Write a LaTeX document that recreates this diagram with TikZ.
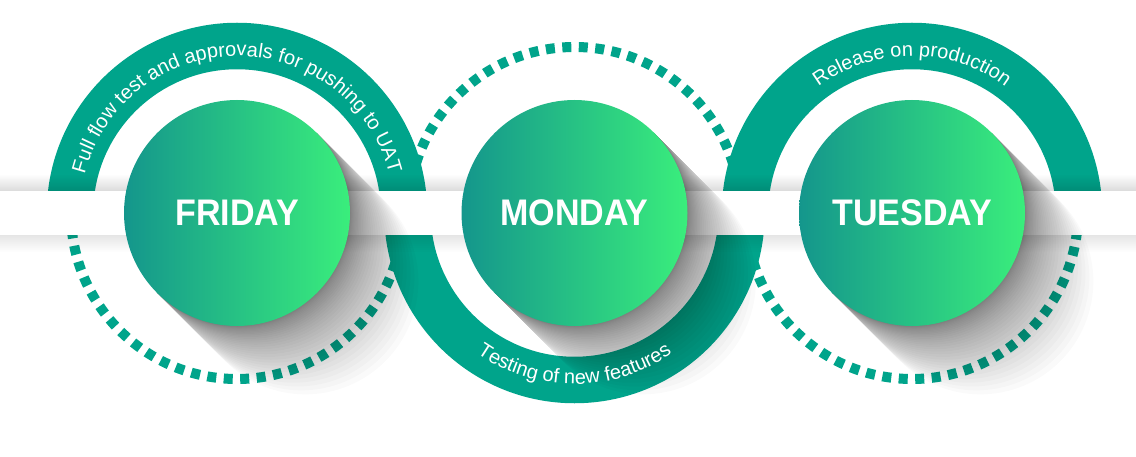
\documentclass[tikz,border=0pt]{standalone}
\usepackage{fontspec}
\setmainfont{Liberation Sans}
\usetikzlibrary{calc,fadings,decorations.text}
\definecolor{ringteal}{RGB}{0,164,139}
\definecolor{dayleft}{RGB}{20,150,140}
\definecolor{dayright}{RGB}{58,238,124}

\tikzset{
  solidring/.style={draw=ringteal, line width=46.5pt},
  dotring/.style={draw=ringteal, line width=10pt, dash pattern=on 9pt off 7.5pt},
  daycircle/.style={circle, minimum size=226pt, inner sep=0pt, left color=dayleft, right color=dayright, text=white, font=\bfseries\fontsize{37}{37}\selectfont},
  longshadow/.style={fill=black, fill opacity=0.019},
  arctext/.style={decorate, decoration={text along path, text align=center, text color=white}}
}
\newcommand{\arcfont}{\fontsize{20}{20}\selectfont}
\newcommand{\dayname}[1]{\scalebox{0.92}[1]{#1}}

\begin{document}
\begin{tikzpicture}[x=1pt, y=1pt]
\useasboundingbox (0,0) rectangle (1136,456);
\fill[white] (0,0) rectangle (1136,456);

% centres of the three days
\coordinate (cfri) at (237,243);
\coordinate (cmon) at (574.5,243);
\coordinate (ctue) at (912,243);

% dotted halves
\draw[dotring] ($(cfri)+(180:166)$) arc[start angle=180, end angle=360, radius=166];
\draw[dotring] ($(cmon)+(0:166)$) arc[start angle=0, end angle=180, radius=166];
\draw[dotring] ($(ctue)+(180:166)$) arc[start angle=180, end angle=360, radius=166];

% solid halves
\draw[solidring] ($(cfri)+(0:167)$) arc[start angle=0, end angle=180, radius=167];
\draw[solidring] ($(cmon)+(180:167)$) arc[start angle=180, end angle=360, radius=167];
\draw[solidring] ($(ctue)+(0:167)$) arc[start angle=0, end angle=180, radius=167];

% band with its soft shadow
\fill[black, opacity=0.14, path fading=north] (0,265) rectangle (1136,282);
\fill[black, opacity=0.10, path fading=south] (0,204) rectangle (1136,221);
\fill[white] (0,221) rectangle (1136,265);

% long shadows
\foreach \c in {cfri,cmon,ctue}{
  \foreach \k in {1,...,32}{
    \pgfmathsetmacro{\l}{0.085*\k*\k+0.3*\k}
    \fill[longshadow] ($(\c)+(45:113)$) -- ++(-45:\l) arc[start angle=45, end angle=-135, radius=113] -- ($(\c)+(-135:113)$) -- cycle;
  }
}

% days
\node[daycircle] (fri) at (cfri) {\dayname{FRIDAY}};
\node[daycircle] (mon) at (cmon) {\dayname{MONDAY}};
\node[daycircle] (tue) at (ctue) {\dayname{TUESDAY}};

% texts on the rings
\path[arctext, decoration={text={|\arcfont|Full flow test and approvals for pushing to UAT}}]
  ($(cfri)+(180:157)$) arc[start angle=180, end angle=0, radius=157];
\path[arctext, decoration={text={|\arcfont|Testing of new features}}]
  ($(cmon)+(180:171)$) arc[start angle=180, end angle=360, radius=171];
\path[arctext, decoration={text={|\arcfont|Release on production}}]
  ($(ctue)+(180:157)$) arc[start angle=180, end angle=0, radius=157];

\end{tikzpicture}
\end{document}
